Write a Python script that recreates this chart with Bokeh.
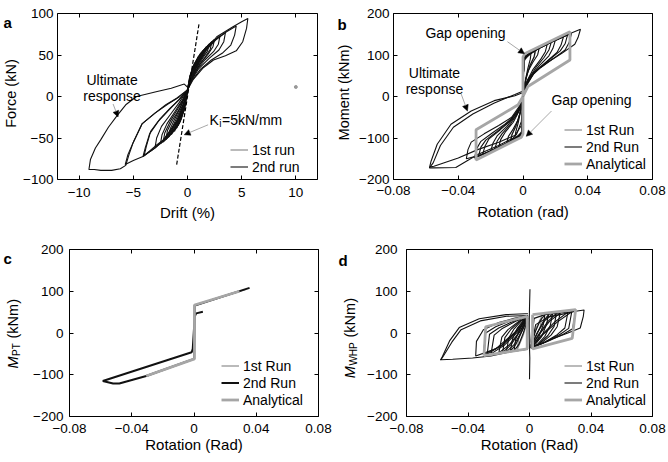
from math import pi
from bokeh.plotting import figure
from bokeh.layouts import column, row
from bokeh.models import (Range1d, FixedTicker, LinearAxis, Label, Arrow,
                          NormalHead, Legend, LegendItem)
from bokeh.embed import file_html
from bokeh.resources import INLINE

FONT = "Liberation Sans"
BLACK = "#111111"
RUN1_GRAY = "#8c8c8c"
ANALYTIC_GRAY = "#a6a6a6"
ARROW_GRAY = "#a8a8a8"

# ======================= DATA =======================
# ---- panel a : Force (kN) vs Drift (%) ----
A_XTICKS = [-10, -5, 0, 5, 10]
A_XTICK_LABELS = ["−10", "−5", "0", "5", "10"]
A_YTICKS = [-100, -50, 0, 50, 100]
A_YTICK_LABELS = ["−100", "−50", "0", "50", "100"]

A_RUN2_X = [
    [0, 0.2, 0.5, 1.0, 0.85, 0.5, 0.2, 0, -0.3, -0.6, -1.0, -0.85, -0.5, -0.2, 0],
    [0, 0.25, 0.6, 1.25, 1.1, 0.7, 0.3, 0, -0.3, -0.7, -1.25, -1.1, -0.7, -0.3, 0],
    [0, 0.25, 0.6, 1.0, 1.5, 1.35, 0.9, 0.4, 0, -0.3, -0.8, -1.5, -1.35, -0.9, -0.4, 0],
    [0, 0.3, 0.7, 1.2, 1.75, 1.6, 1.1, 0.6, 0.2, 0, -0.3, -0.9, -1.75, -1.6, -1.1, -0.5, 0],
    [0, 0.3, 0.7, 1.2, 2.0, 1.85, 1.4, 0.8, 0.3, 0, -0.3, -1.0, -2.0, -1.85, -1.4, -0.7, 0],
    [0, 0.3, 0.8, 1.4, 2.25, 2.1, 1.6, 1.0, 0.4, 0, -0.3, -1.0, -1.7, -2.25, -2.1, -1.6, -0.9, -0.3, 0],
    [0, 0.3, 0.8, 1.4, 2.0, 2.5, 2.35, 1.9, 1.2, 0.6, 0.2, 0, -0.3, -1.0, -1.8, -2.5, -2.35, -1.9, -1.2, -0.5, 0],
    [0, 0.3, 0.8, 1.5, 2.3, 3.0, 2.85, 2.4, 1.6, 0.8, 0.3, 0, -0.3, -1.0, -2.0, -3.0, -2.85, -2.4, -1.6, -0.8, 0],
    [0, 0.3, 0.8, 1.5, 2.5, 3.5, 3.35, 2.9, 2.0, 1.0, 0.35, 0, -0.3, -1.0, -2.0, -3.0, -4.0, -3.8, -3.4, -2.6, -1.6, -0.7, 0],
    [0, 0.3, 0.8, 1.5, 2.6, 3.6, 4.5, 4.35, 4.0, 3.2, 2.2, 1.2, 0.4, 0, -0.3, -1.0, -2.2, -3.2, -4.1, -3.9, -3.5, -2.7, -1.7, -0.8, 0],
    [0, 0.3, 0.8, 1.5, 2.7, 4.2, 5.0, 5.57, 5.45, 5.1, 4.5, 3.5, 2.4, 1.4, 0.5, 0, -0.3, -1.0, -2.2, -3.0, -4.06, -5.0, -5.75, -5.5, -5.0, -4.2, -3.0, -2.0, -1.0, 0],
    [0.1, -0.3, -1.5, -2.8, -4.7, -5.7, -6.5, -7.3, -8.0, -8.5, -8.96, -9.1, -8.6, -8.0, -7.0, -6.2, -5.7, -5.4, -5.0, -4.2, -3.0, -1.8, -0.8, 0],
]
A_RUN2_Y = [
    [8, 24, 36, 48, 40, 30, 18, 8, -16, -28, -38, -29, -17, -5, 8],
    [8, 25, 38, 52, 44, 34, 20, 8, -15, -31, -42, -33, -20, -7, 8],
    [8, 25, 38, 48, 56, 48, 38, 24, 8, -15, -33, -46, -36, -23, -9, 8],
    [8, 25, 40, 51, 60, 52, 42, 30, 16, 8, -14, -35, -49, -39, -25, -9, 8],
    [8, 25, 40, 52, 63, 55, 46, 34, 20, 8, -14, -36, -52, -41, -29, -14, 8],
    [8, 24, 42, 54, 66, 57, 47, 36, 21, 8, -13, -35, -48, -55, -44, -30, -15, -2, 8],
    [8, 24, 42, 54, 63, 69, 60, 51, 40, 28, 15, 8, -13, -35, -49, -57, -46, -33, -19, -5, 8],
    [8, 23, 41, 55, 66, 73, 63, 54, 44, 31, 18, 8, -12, -34, -51, -62, -50, -36, -22, -8, 8],
    [8, 22, 40, 54, 68, 77, 66, 56, 46, 33, 19, 8, -10, -32, -50, -62, -71, -60, -42, -28, -14, -3, 8],
    [8, 21, 38, 53, 68, 78, 85, 74, 62, 52, 44, 33, 19, 8, -10, -30, -52, -64, -72, -62, -45, -30, -16, -4, 8],
    [8, 20, 38, 52, 72, 84, 90, 94, 82, 66, 55, 49, 44, 34, 20, 8, -10, -30, -52, -60, -72, -77, -82, -70, -55, -33, -20, -10, -2, 8],
    [10, 15, 10, 6, 0, -10, -23, -37, -52, -62, -76, -88, -88, -89, -89, -87, -83, -70, -55, -33, -20, -9, -1, 8],
]
A_RUN1_X = [
    [0, 0.2, 0.5, 0.4, 0.2, 0, -0.2, -0.5, -0.4, -0.2, 0],
    [0, 0.3, 0.7, 1.2, 1.05, 0.6, 0.2, 0, -0.3, -0.7, -1.2, -1.05, -0.6, -0.2, 0],
]
A_RUN1_Y = [
    [8, 22, 32, 26, 16, 8, -10, -22, -15, -5, 8],
    [8, 26, 39, 50, 42, 31, 17, 8, -16, -30, -42, -32, -18, -4, 8],
]
A_KI_X = [-1.0, 1.07]
A_KI_Y = [-82, 88]
A_DOT_X = [10]
A_DOT_Y = [11.5]

# ---- panel b : Moment (kNm) vs Rotation (rad) ----
R_XTICKS = [-0.08, -0.04, 0, 0.04, 0.08]
R_XTICK_LABELS = ["−0.08", "−0.04", "0", "0.04", "0.08"]
M_YTICKS = [-200, -100, 0, 100, 200]
M_YTICK_LABELS = ["−200", "−100", "0", "100", "200"]

B_RUN2_X = [
    [0, 0.0003, 0.001, 0.003, 0.005, 0.0045, 0.003, 0.0015, 0, -0.0003, -0.001, -0.003, -0.005, -0.0045, -0.003, -0.0015, 0],
    [0, 0.0003, 0.001, 0.004, 0.0075, 0.0068, 0.0045, 0.002, 0, -0.0003, -0.001, -0.004, -0.0075, -0.0068, -0.0045, -0.002, 0],
    [0, 0.0003, 0.001, 0.005, 0.01, 0.009, 0.006, 0.003, 0.001, 0, -0.0003, -0.001, -0.005, -0.01, -0.009, -0.006, -0.003, -0.001, 0],
    [0, 0.0003, 0.001, 0.005, 0.01, 0.015, 0.0138, 0.011, 0.006, 0.002, 0, -0.0003, -0.001, -0.005, -0.01, -0.015, -0.0138, -0.011, -0.006, -0.002, 0],
    [0, 0.0003, 0.001, 0.006, 0.012, 0.0175, 0.016, 0.013, 0.008, 0.003, 0, -0.0003, -0.001, -0.006, -0.012, -0.0175, -0.016, -0.013, -0.008, -0.003, 0],
    [0, 0.0003, 0.001, 0.005, 0.012, 0.02, 0.0185, 0.016, 0.01, 0.004, 0.001, 0, -0.0003, -0.001, -0.005, -0.012, -0.02, -0.0185, -0.016, -0.01, -0.004, -0.001, 0],
    [0, 0.0003, 0.001, 0.005, 0.012, 0.025, 0.0235, 0.021, 0.014, 0.007, 0.002, 0, -0.0003, -0.001, -0.005, -0.012, -0.025, -0.0235, -0.021, -0.014, -0.007, -0.002, 0],
    [0, 0.0003, 0.001, 0.006, 0.014, 0.0275, 0.026, 0.023, 0.016, 0.008, 0.002, 0, -0.0003, -0.001, -0.006, -0.014, -0.0275, -0.026, -0.023, -0.016, -0.008, -0.002, 0],
    [0, 0.0003, 0.001, 0.005, 0.012, 0.02, 0.03, 0.0285, 0.026, 0.019, 0.011, 0.004, 0.001, 0, -0.0003, -0.001, -0.005, -0.012, -0.02, -0.03, -0.0285, -0.026, -0.019, -0.011, -0.004, -0.001, 0],
    [0, 0.0003, 0.001, 0.005, 0.012, 0.02, 0.028, 0.0355, 0.034, 0.032, 0.024, 0.015, 0.007, 0.002, 0, -0.0003, -0.001, -0.005, -0.012, -0.02, -0.028, -0.035, -0.034, -0.032, -0.024, -0.015, -0.007, -0.002, 0],
    [0.0005, -0.005, -0.0178, -0.032, -0.0445, -0.053, -0.0568, -0.0578, -0.055, -0.0415, -0.035, -0.028, -0.015, -0.006, -0.001, 0],
    [0.0005, -0.005, -0.018, -0.031, -0.043, -0.051, -0.0555, -0.0575, -0.055, -0.04, -0.028, -0.015, -0.004, -0.001, 0],
]
B_RUN2_Y = [
    [0, 55, 88, 98, 106, 90, 68, 40, 0, -55, -86, -95, -102, -86, -64, -36, 0],
    [0, 58, 90, 101, 110, 95, 76, 46, 0, -58, -88, -98, -106, -92, -72, -42, 0],
    [0, 60, 92, 104, 116, 100, 82, 60, 30, 0, -60, -90, -100, -112, -96, -78, -56, -28, 0],
    [0, 60, 94, 106, 116, 126, 108, 90, 64, 34, 0, -60, -91, -102, -112, -122, -104, -86, -62, -32, 0],
    [0, 60, 95, 108, 120, 131, 112, 94, 70, 40, 0, -60, -92, -106, -116, -127, -108, -90, -68, -38, 0],
    [0, 60, 95, 107, 120, 136, 116, 98, 74, 46, 20, 0, -60, -92, -104, -116, -132, -112, -95, -72, -44, -18, 0],
    [0, 60, 95, 108, 121, 144, 124, 106, 82, 58, 28, 0, -60, -92, -104, -117, -140, -120, -102, -80, -56, -26, 0],
    [0, 60, 95, 110, 124, 148, 127, 110, 88, 62, 30, 0, -60, -92, -106, -120, -144, -122, -105, -84, -58, -26, 0],
    [0, 60, 95, 108, 122, 136, 152, 130, 112, 92, 70, 45, 20, 0, -60, -92, -105, -118, -132, -148, -125, -108, -88, -66, -42, -18, 0],
    [0, 60, 95, 108, 122, 137, 150, 162, 142, 126, 104, 82, 58, 25, 0, -60, -92, -105, -118, -132, -143, -150, -128, -110, -90, -70, -50, -22, 0],
    [10, 2, -10, -35, -67, -115, -156, -172, -172, -171, -156, -140, -118, -100, -70, 0],
    [14, 5, -16, -42, -74, -118, -160, -170, -168, -148, -128, -110, -92, -60, 0],
]
B_RUN1_X = [[0, 0.0003, 0.001, 0.004, 0.008, 0.007, 0.004, 0.001, 0, -0.0003, -0.001, -0.004, -0.008, -0.007, -0.004, -0.001, 0]]
B_RUN1_Y = [[0, 60, 92, 102, 112, 96, 74, 30, 0, -60, -90, -98, -108, -92, -70, -28, 0]]
B_ANALYTIC_X = [
    [0, 0, 0.001, 0.029, 0.029, 0.003, 0],
    [0, 0, -0.001, -0.029, -0.029, -0.003, 0],
]
B_ANALYTIC_Y = [
    [0, 95, 103, 156, 88, 24, 0],
    [0, -90, -98, -153, -80, -20, 0],
]

# ---- panel c : M_PT (kNm) vs Rotation (Rad) ----
C_RUN2_X = [[0.0057, 0.0014, 0.0005, -0.0008, -0.0015, -0.0586, -0.052, -0.048, -0.0307, 0.0, 0.0003, 0.0005, 0.0357]]
C_RUN2_Y = [[51, 47, 40, -38, -46, -115, -121, -121, -103, -62, 0, 66, 108]]
C_RUN1_X = [[0.033, 0.0003, 0.0003, -0.031]]
C_RUN1_Y = [[104, 66, -61, -104]]
C_ANALYTIC_X = [[0.0292, 0.0003, 0.0003, -0.0307]]
C_ANALYTIC_Y = [[100, 67, -62, -103]]

# ---- panel d : M_WHP (kNm) vs Rotation (Rad) ----
D_RUN2_X = [
    [0.0003, 0.0, -0.0003, 0.0002, 0.0],
    [0.001, 0.004, 0.007, 0.01, 0.009, 0.006, 0.003, 0.001],
    [0.001, 0.005, 0.009, 0.0125, 0.011, 0.008, 0.004, 0.001],
    [0.001, 0.005, 0.01, 0.015, 0.0135, 0.01, 0.005, 0.001],
    [0.001, 0.006, 0.012, 0.0175, 0.016, 0.012, 0.006, 0.001],
    [0.001, 0.006, 0.013, 0.02, 0.018, 0.014, 0.007, 0.001],
    [0.001, 0.007, 0.016, 0.025, 0.023, 0.018, 0.009, 0.001],
    [0.001, 0.008, 0.018, 0.0275, 0.0255, 0.02, 0.01, 0.001],
    [0.001, 0.004, 0.012, 0.02, 0.03, 0.028, 0.022, 0.012, 0.001],
    [0.001, 0.003, 0.01, 0.02, 0.03, 0.0355, 0.035, 0.033, 0.025, 0.015, 0.005, 0.001],
    [-0.001, -0.004, -0.007, -0.01, -0.009, -0.006, -0.003, -0.001],
    [-0.001, -0.005, -0.009, -0.0125, -0.011, -0.008, -0.004, -0.001],
    [-0.001, -0.005, -0.01, -0.015, -0.0135, -0.01, -0.005, -0.001],
    [-0.001, -0.006, -0.012, -0.0175, -0.016, -0.012, -0.006, -0.001],
    [-0.001, -0.006, -0.013, -0.02, -0.018, -0.014, -0.007, -0.001],
    [-0.001, -0.007, -0.016, -0.025, -0.023, -0.018, -0.009, -0.001],
    [-0.001, -0.008, -0.018, -0.0275, -0.026, -0.02, -0.01, -0.001],
    [-0.001, -0.008, -0.018, -0.03, -0.0285, -0.022, -0.012, -0.001],
    [-0.001, -0.01, -0.022, -0.035, -0.0345, -0.03, -0.02, -0.01, -0.001],
    [-0.001, -0.003, -0.0153, -0.0327, -0.0457, -0.052, -0.0576, -0.05, -0.037, -0.025, -0.0153, -0.001],
    [-0.001, -0.015, -0.032, -0.0445, -0.0505, -0.0565, -0.058],
]
D_RUN2_Y = [
    [105, 60, 0, -60, -111],
    [-30, 5, 30, 44, 20, -10, -28, -30],
    [-31, 0, 28, 45, 20, -8, -26, -31],
    [-32, 0, 30, 46, 18, -8, -28, -32],
    [-33, -3, 28, 47, 16, -6, -27, -33],
    [-34, -5, 28, 48, 15, -5, -26, -34],
    [-35, -8, 25, 50, 12, -4, -24, -35],
    [-35, -6, 26, 51, 11, -3, -22, -35],
    [-36, 20, 38, 44, 52, 10, -3, -20, -36],
    [-37, 35, 44, 48, 52, 55, 40, 12, 0, -14, -30, -37],
    [35, 0, -28, -42, -15, 12, 30, 35],
    [36, 3, -28, -44, -14, 11, 30, 36],
    [37, 5, -28, -45, -12, 10, 30, 37],
    [37, 5, -28, -47, -11, 9, 29, 37],
    [38, 5, -28, -48, -10, 8, 28, 38],
    [40, 5, -28, -50, -5, 10, 28, 40],
    [40, 5, -29, -51, -3, 12, 29, 40],
    [40, 5, -30, -52, 0, 15, 30, 40],
    [42, 0, -38, -55, -20, 8, 25, 35, 42],
    [46, 46, 44, 34, 13, -19, -64, -63, -60, -55, -47, -39],
    [42, 40, 29, 8, -22, -58, -65],
]
D_RUN1_X = [[0.001, 0.004, 0.008, 0.007, 0.003, 0.001, -0.001, -0.004, -0.008, -0.007, -0.003, -0.001]]
D_RUN1_Y = [[-30, 10, 40, 15, -20, -30, 35, -5, -40, -12, 25, 35]]
D_ANALYTIC_X = [
    [0.002, 0.030, 0.0278, 0.002, 0.002],
    [-0.0296, -0.0285, -0.0015, -0.0015, -0.0296],
]
D_ANALYTIC_Y = [
    [44, 56, -13, -38, 44],
    [-54, 15, 40, -38, -54],
]


# ======================= HELPERS =======================
def style_ticks(ax):
    ax.axis_line_color = None
    ax.major_tick_in = 4
    ax.major_tick_out = 0
    ax.minor_tick_in = 0
    ax.minor_tick_out = 0
    ax.major_tick_line_color = "black"
    ax.major_tick_line_width = 1


def make_panel(w, h, borders, xr, yr, xt, xtl, yt, ytl, xlabel, xstand, lstand, ystand):
    bl, br, bt, bb = borders
    p = figure(width=w, height=h, x_range=Range1d(*xr), y_range=Range1d(*yr),
               output_backend="svg", toolbar_location=None,
               min_border_left=bl, min_border_right=br,
               min_border_top=bt, min_border_bottom=bb)
    p.xgrid.visible = False
    p.ygrid.visible = False
    p.outline_line_color = "black"
    p.outline_line_alpha = 1.0
    p.outline_line_width = 1
    p.background_fill_color = "white"
    p.border_fill_color = "white"
    xa = p.xaxis[0]
    ya = p.yaxis[0]
    xa.ticker = FixedTicker(ticks=xt, minor_ticks=[])
    ya.ticker = FixedTicker(ticks=yt, minor_ticks=[])
    xa.major_label_overrides = {t: s for t, s in zip(xt, xtl)}
    ya.major_label_overrides = {t: s for t, s in zip(yt, ytl)}
    xa.major_label_standoff = xstand
    ya.major_label_standoff = ystand
    xa.axis_label = xlabel
    xa.axis_label_standoff = lstand
    xa.axis_label_text_font = FONT
    xa.axis_label_text_font_size = "15px"
    xa.axis_label_text_font_style = "normal"
    xa.axis_label_text_color = "black"
    for ax in (xa, ya):
        style_ticks(ax)
        ax.major_label_text_font = FONT
        ax.major_label_text_font_size = "13.5px"
        ax.major_label_text_color = "black"
    top = LinearAxis(ticker=FixedTicker(ticks=xt, minor_ticks=[]))
    right = LinearAxis(ticker=FixedTicker(ticks=yt, minor_ticks=[]))
    for ax, ts in ((top, xt), (right, yt)):
        style_ticks(ax)
        ax.major_label_overrides = {t: "" for t in ts}
        ax.major_label_text_font_size = "0px"
        ax.major_label_standoff = 0
    p.add_layout(top, "above")
    p.add_layout(right, "right")
    return p


def make_strip(w, h):
    # narrow text-only figure holding the y-axis title and panel letter
    s = figure(width=w, height=h, x_range=Range1d(0, 1), y_range=Range1d(0, 1),
               output_backend="svg", toolbar_location=None, min_border=0,
               x_axis_type=None, y_axis_type=None)
    s.outline_line_color = None
    s.background_fill_color = "white"
    s.border_fill_color = "white"
    return s


def screen_text(p, x, y, text, size="14.5px", angle=0.0, align="center",
                baseline="middle", style="normal"):
    p.add_layout(Label(x=x, y=y, x_units="screen", y_units="screen", text=text,
                       angle=angle, text_align=align, text_baseline=baseline,
                       text_font=FONT, text_font_size=size, text_font_style=style,
                       text_color="black"))


def data_text(p, x, y, text, size="14px", align="center", x_offset=0, y_offset=0):
    p.add_layout(Label(x=x, y=y, text=text, text_align=align, text_baseline="middle",
                       x_offset=x_offset, y_offset=y_offset,
                       text_font=FONT, text_font_size=size, text_color="black"))


def arrow(p, x0, y0, x1, y1):
    p.add_layout(Arrow(x_start=x0, y_start=y0, x_end=x1, y_end=y1,
                       line_color=ARROW_GRAY, line_width=1,
                       end=NormalHead(size=6, fill_color="black", line_color="black",
                                      line_width=0.5)))


def legend(p, items, loc, row_h=17):
    leg = Legend(items=items, location=loc, orientation="vertical",
                 background_fill_alpha=0, border_line_color=None,
                 padding=0, spacing=0, margin=0,
                 glyph_width=18, glyph_height=row_h, label_height=row_h,
                 label_standoff=4, label_text_font=FONT, label_text_font_size="14px",
                 label_text_baseline="middle", label_text_color="black")
    p.add_layout(leg)


# Rows align their frames: row 1 frame spans page y 13..179, row 2 spans 249..416.

# ======================= PANEL a =======================
sa = make_strip(20, 231)
screen_text(sa, 3, 157, "a", size="15px", align="left", baseline="alphabetic", style="bold")
screen_text(sa, 10, 86, "Force (kN)", angle=pi / 2)

pa = make_panel(314, 231, (35, 17, 13, 52), (-12, 12), (-100, 100),
                A_XTICKS, A_XTICK_LABELS, A_YTICKS, A_YTICK_LABELS,
                "Drift (%)", 8, 4, 4)
ra1 = pa.multi_line(A_RUN1_X, A_RUN1_Y, line_color=RUN1_GRAY, line_width=1.2)
ra2 = pa.multi_line(A_RUN2_X, A_RUN2_Y, line_color=BLACK, line_width=1.1)
pa.line(A_KI_X, A_KI_Y, line_color="black", line_width=1.2, line_dash="4 2")
pa.scatter(A_DOT_X, A_DOT_Y, size=3, color="#999999")
data_text(pa, -6.96, 19.8, "Ultimate")
data_text(pa, -6.96, 0.6, "response")
arrow(pa, -6.87, -9.0, -6.41, -24.6)
data_text(pa, 2.04, -28.1, "K", align="left")
data_text(pa, 2.04, -28.1, "i", size="10px", align="left", x_offset=9.6, y_offset=-4)
data_text(pa, 2.04, -28.1, "=5kN/mm", align="left", x_offset=12.4)
arrow(pa, 1.90, -34.1, -0.30, -46.1)
legend(pa, [LegendItem(label="1st run", renderers=[ra1]),
            LegendItem(label="2nd run", renderers=[ra2])], (173, 4))

# ======================= PANEL b =======================
sb = make_strip(20, 231)
screen_text(sb, 3, 155, "b", size="15px", align="left", baseline="alphabetic", style="bold")
screen_text(sb, 9.5, 87, "Moment (kNm)", angle=pi / 2)

pb = make_panel(314, 231, (39, 16, 13, 52), (-0.08, 0.08), (-200, 200),
                R_XTICKS, R_XTICK_LABELS, M_YTICKS, M_YTICK_LABELS,
                "Rotation (rad)", 6, 5, 4)
rb1 = pb.multi_line(B_RUN1_X, B_RUN1_Y, line_color=RUN1_GRAY, line_width=1.2)
rb2 = pb.multi_line(B_RUN2_X, B_RUN2_Y, line_color=BLACK, line_width=1.1)
rb3 = pb.multi_line(B_ANALYTIC_X, B_ANALYTIC_Y, line_color=ANALYTIC_GRAY, line_width=2.8)
data_text(pb, -0.0355, 154, "Gap opening")
arrow(pb, -0.0096, 132, 0.0009, 103)
data_text(pb, 0.0423, -8.5, "Gap opening")
arrow(pb, 0.0176, -35, 0.002, -96)
data_text(pb, -0.0547, 57, "Ultimate")
data_text(pb, -0.0547, 17.5, "response")
arrow(pb, -0.0382, 6, -0.0343, -35)
legend(pb, [LegendItem(label="1st Run", renderers=[rb1]),
            LegendItem(label="2nd Run", renderers=[rb2]),
            LegendItem(label="Analytical", renderers=[rb3])], (171, 7))

# ======================= PANEL c =======================
sc = make_strip(24, 231)
screen_text(sc, 3, 158, "c", size="15px", align="left", baseline="alphabetic", style="bold")
screen_text(sc, 12.5, 48, "M", angle=pi / 2, align="left", style="italic")
screen_text(sc, 16, 60.6, "PT", size="10px", angle=pi / 2, align="left")
screen_text(sc, 12.5, 78, "(kNm)", angle=pi / 2, align="left")

pc = make_panel(310, 231, (45, 16, 18, 46), (-0.08, 0.08), (-200, 200),
                R_XTICKS, R_XTICK_LABELS, M_YTICKS, M_YTICK_LABELS,
                "Rotation (Rad)", 7, 0, 6)
rc1 = pc.multi_line(C_RUN1_X, C_RUN1_Y, line_color=RUN1_GRAY, line_width=1.2)
rc2 = pc.multi_line(C_RUN2_X, C_RUN2_Y, line_color=BLACK, line_width=2.0)
rc3 = pc.multi_line(C_ANALYTIC_X, C_ANALYTIC_Y, line_color=ANALYTIC_GRAY, line_width=2.8)
legend(pc, [LegendItem(label="1st Run", renderers=[rc1]),
            LegendItem(label="2nd Run", renderers=[rc2]),
            LegendItem(label="Analytical", renderers=[rc3])], (152, 8))

# ======================= PANEL d =======================
sd = make_strip(26, 231)
screen_text(sd, 4, 156, "d", size="15px", align="left", baseline="alphabetic", style="bold")
screen_text(sd, 15, 38.3, "M", angle=pi / 2, align="left", style="italic")
screen_text(sd, 18.5, 50.9, "WHP", size="10px", angle=pi / 2, align="left")
screen_text(sd, 15, 79, "(kNm)", angle=pi / 2, align="left")

pd = make_panel(308, 231, (46, 16, 18, 46), (-0.08, 0.08), (-200, 200),
                R_XTICKS, R_XTICK_LABELS, M_YTICKS, M_YTICK_LABELS,
                "Rotation (Rad)", 7, 0, 9)
rd1 = pd.multi_line(D_RUN1_X, D_RUN1_Y, line_color=RUN1_GRAY, line_width=1.2)
rd2 = pd.multi_line(D_RUN2_X, D_RUN2_Y, line_color=BLACK, line_width=1.1)
rd3 = pd.multi_line(D_ANALYTIC_X, D_ANALYTIC_Y, line_color=ANALYTIC_GRAY, line_width=2.8)
legend(pd, [LegendItem(label="1st Run", renderers=[rd1]),
            LegendItem(label="2nd Run", renderers=[rd2]),
            LegendItem(label="Analytical", renderers=[rd3])], (158, 8))

layout = column(row(sa, pa, sb, pb), row(sc, pc, sd, pd))
open("out.html", "w").write(file_html(layout, INLINE))
